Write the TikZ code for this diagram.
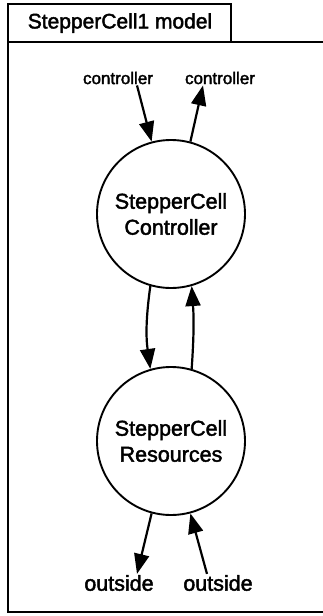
\documentclass[tikz,border=0pt]{standalone}
\usepackage{fontspec}
\setmainfont[FakeBold=2]{Liberation Sans}
\usetikzlibrary{arrows.meta}
\begin{document}
\begin{tikzpicture}[x=1pt,y=-1pt,
  frameline/.style={line width=2.2pt},
  proc/.style={circle,draw,line width=1.9pt,minimum size=148pt,inner sep=0pt,
    align=center,font=\fontsize{21.5}{26}\selectfont},
  flow/.style={line width=2.2pt,-{Triangle[length=20pt,width=15pt]}},
  portlbl/.style={inner sep=1pt,font=\fontsize{17}{20}\selectfont},
  extlbl/.style={inner sep=1pt,font=\fontsize{21.5}{24}\selectfont}]
\useasboundingbox (0,0) rectangle (323,616);
% model frame with title tab
\draw[frameline] (8,42) rectangle (231,4);
\node[font=\fontsize{21}{24}\selectfont] (title) at (120,23) {StepperCell1 model};
\draw[frameline] (323,42) -- (8,42) -- (8,612) -- (323,612);
% processes
\node[proc] (ctl) at (171,214) {StepperCell\\Controller};
\node[proc] (res) at (171,441) {StepperCell\\Resources};
% external ports
\node[portlbl] (cin)  at (118,78) {controller};
\node[portlbl] (cout) at (220,78) {controller};
\node[extlbl] (oout) at (119,583) {outside};
\node[extlbl] (oin)  at (218,583) {outside};
% flows
\draw[flow] ([xshift=19pt]cin.south) -- (ctl.105);
\draw[flow] (ctl.75) -- ([xshift=-17pt]cout.south);
\draw[flow] (ctl.254) to[bend right=8] (res.106);
\draw[flow] (res.74) to[bend right=4] (ctl.286);
\draw[flow] (res.255) -- ([xshift=18pt]oout.north);
\draw[flow] ([xshift=-11pt]oin.north) -- (res.285);
\end{tikzpicture}
\end{document}
